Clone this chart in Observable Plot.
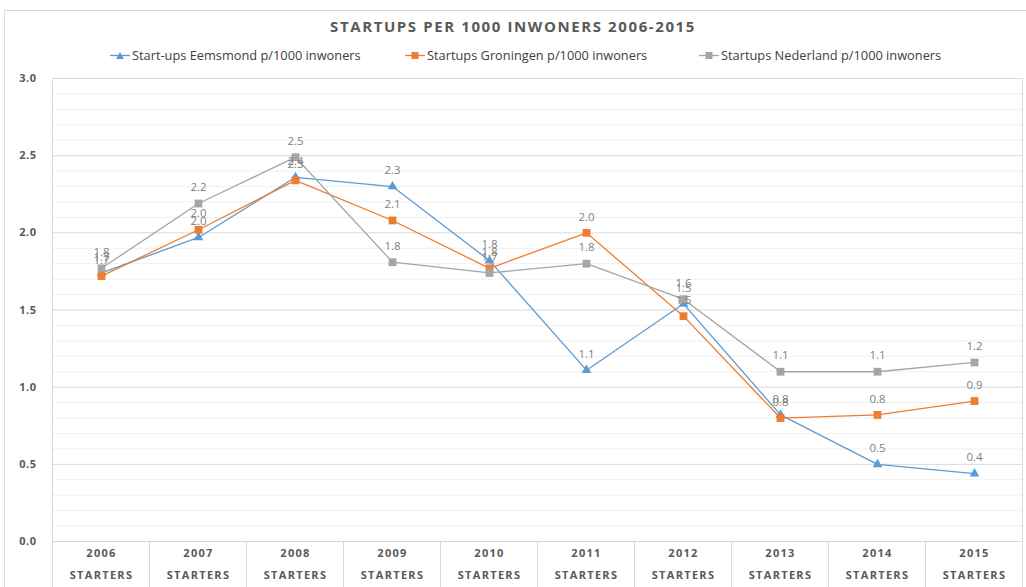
<!DOCTYPE html>
<html><head><meta charset="utf-8">
<script src="https://cdn.jsdelivr.net/npm/d3@7"></script>
<script src="https://cdn.jsdelivr.net/npm/@observablehq/plot@0.6"></script>
<style>
body{margin:0;background:#fff;font-family:"Open Sans",sans-serif;}
#wrap{position:relative;width:1026px;height:587px;overflow:hidden;background:#fff;}
#frame{position:absolute;left:4px;top:10px;width:1040px;height:620px;border:1px solid #d9d9d9;}
#title{position:absolute;top:16px;left:0;width:1026px;text-align:center;font-weight:bold;font-size:15px;letter-spacing:1.6px;color:#595959;line-height:20px;}
.leg{position:absolute;top:46px;font-size:12.8px;color:#404040;line-height:18px;display:flex;align-items:center;white-space:nowrap;}
.leg svg{margin-right:2px;}
#chart{position:absolute;top:68px;left:0;}
#chart g[aria-label="x-axis tick label"] text{letter-spacing:1.3px;}
#chart g[aria-label="y-axis tick label"] text{letter-spacing:0.5px;}
</style></head><body>
<div id="wrap">
  <div id="frame"></div>
  <div id="title">STARTUPS PER 1000 INWONERS 2006-2015</div>
  <div id="legend"></div>
  <div id="chart"></div>
</div>
<script>
const years = ["2006","2007","2008","2009","2010","2011","2012","2013","2014","2015"];
const subLabel = "STARTERS";
const eemsmond  = [1.74, 1.97, 2.36, 2.30, 1.82, 1.11, 1.54, 0.82, 0.50, 0.44];
const groningen = [1.72, 2.02, 2.34, 2.08, 1.77, 2.00, 1.46, 0.80, 0.82, 0.91];
const nederland = [1.77, 2.19, 2.49, 1.81, 1.74, 1.80, 1.57, 1.10, 1.10, 1.16];
const seriesNames = ["Start-ups Eemsmond p/1000 inwoners","Startups Groningen p/1000 inwoners","Startups Nederland p/1000 inwoners"];
const seriesColors = ["#5b9bd5","#ed7d31","#a5a5a5"];
const seriesSymbols = ["triangle","square","square"];
const majorTicks = [0, 0.5, 1, 1.5, 2, 2.5, 3];
const minorTicks = [0.1,0.2,0.3,0.4,0.6,0.7,0.8,0.9,1.1,1.2,1.3,1.4,1.6,1.7,1.8,1.9,2.1,2.2,2.3,2.4,2.6,2.7,2.8,2.9];

const seriesValues = [eemsmond, groningen, nederland];
const series = seriesNames.map((name, k) => ({
  name, color: seriesColors[k], symbol: seriesSymbols[k],
  rows: years.map((year, i) => ({year, value: seriesValues[k][i], name}))
}));
const allRows = series.flatMap(s => s.rows);
const fmt = d3.format(".1f");

// legend
const legendLefts = [110, 405, 699];
const legend = document.getElementById("legend");
series.forEach((s, k) => {
  const div = document.createElement("div");
  div.className = "leg";
  div.style.left = legendLefts[k] + "px";
  const marker = s.symbol === "triangle"
    ? `<polygon points="10,2 14,9 6,9" fill="${s.color}"/>`
    : `<rect x="6.5" y="2" width="7" height="7" fill="${s.color}"/>`;
  div.innerHTML = `<svg width="20" height="11"><line x1="0" x2="20" y1="5.5" y2="5.5" stroke="${s.color}" stroke-width="1.3"/>${marker}</svg><span>${s.name}</span>`;
  legend.appendChild(div);
});

const dividers = (index, scales, values, dimensions) => {
  const xs = years.map(y => scales.x(y));
  const step = xs[1] - xs[0];
  const g = d3.create("svg:g");
  const bottom = dimensions.height - dimensions.marginBottom;
  const pos = xs.map(x => x - step / 2).concat([xs[xs.length - 1] + step / 2]);
  pos.forEach((x, i) => {
    g.append("line").attr("x1", x).attr("x2", x)
      .attr("y1", (i === 0 || i === pos.length - 1) ? dimensions.marginTop : bottom)
      .attr("y2", dimensions.height)
      .attr("stroke", "#d9d9d9").attr("stroke-width", 1);
  });
  return g.node();
};

const marks = [
  Plot.ruleY(minorTicks, {stroke: "#efefef", strokeWidth: 1}),
  Plot.ruleY(majorTicks, {stroke: "#d9d9d9", strokeWidth: 1}),
  dividers,
  Plot.axisY({ticks: majorTicks, tickSize: 0, tickPadding: 16, tickFormat: fmt, fontWeight: "bold", fill: "#595959", label: null}),
  Plot.axisX({tickSize: 0, tickPadding: 8, fontWeight: "bold", fill: "#595959", label: null}),
  Plot.axisX({tickSize: 0, tickPadding: 30, tickFormat: () => subLabel, fontWeight: "bold", fill: "#595959", label: null})
];
series.forEach(s => {
  marks.push(Plot.line(s.rows, {x: "year", y: "value", stroke: s.color, strokeWidth: 1.3}));
  marks.push(Plot.dot(s.rows, {x: "year", y: "value", symbol: s.symbol, fill: s.color, stroke: "none", r: s.symbol === "triangle" ? 3.6 : 4.4}));
});
marks.push(Plot.text(allRows, {x: "year", y: "value", text: d => fmt(d.value), dy: -16, fill: "#7f7f7f", fontSize: 11.5}));

const chart = Plot.plot({
  width: 1026, height: 519,
  marginTop: 10, marginBottom: 46, marginLeft: 52, marginRight: 4,
  x: {type: "point", domain: years, padding: 0.5},
  y: {domain: [0, 3]},
  style: {fontFamily: "'Open Sans', sans-serif", fontSize: "11px", background: "transparent", color: "#595959"},
  marks
});
document.getElementById("chart").appendChild(chart);
</script>
</body></html>
